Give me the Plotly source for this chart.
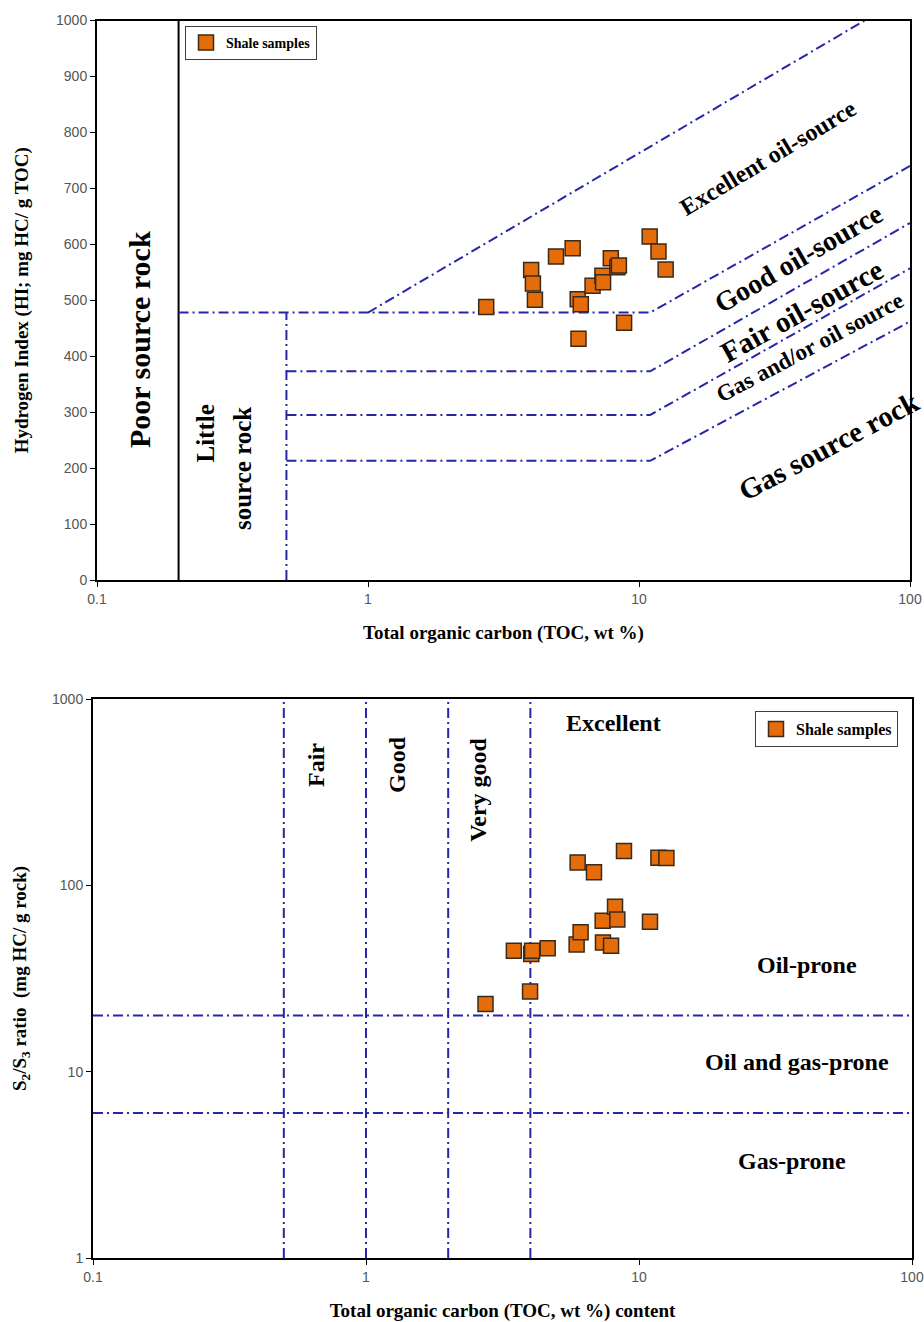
import numpy as np
import plotly.graph_objects as go

# ---------------- data ----------------
# Top chart: HI vs TOC
toc_hi = [2.73, 4.00, 4.06, 4.13, 4.94, 5.69, 5.98, 5.94, 6.10, 6.74,
          7.33, 7.37, 7.87, 8.32, 8.43, 8.81, 10.95, 11.8, 12.54]
hi = [488, 554, 530, 501, 578, 593, 431, 502, 493, 526,
      544, 532, 575, 559, 562, 460, 614, 587, 555]

# Bottom chart: S2/S3 vs TOC
toc_s = [2.74, 3.99, 3.48, 4.03, 4.06, 4.63, 5.91, 6.11, 5.96, 6.84,
         7.36, 7.38, 7.90, 8.17, 8.33, 8.81, 10.97, 11.78, 12.6]
s2s3 = [23.1, 26.9, 44.6, 42.8, 44.6, 45.9, 48.2, 56.0, 132.8, 117.5,
        64.6, 49.4, 47.4, 76.7, 65.6, 152.8, 63.8, 140.6, 140.0]

# Classification boundaries (top chart)
poor_x = 0.2
little_x = 0.5
class_start_x = [0.2, 0.5, 0.5, 0.5]
class_hi = [478, 373, 295, 213]
class_bend_x = 11
class_end_x = 100
class_end_hi = [740, 638, 557, 462]
excellent_x = [1, 68]
excellent_hi = [478, 1000]

# Classification boundaries (bottom chart)
toc_bounds = [0.5, 1, 2, 4]
ratio_bounds = [20, 6]

x_ticks = [0.1, 1, 10, 100]
x_tick_text = ["0.1", "1", "10", "100"]
y2_ticks = [1, 10, 100, 1000]
y2_tick_text = ["1", "10", "100", "1000"]

# ---------------- styling ----------------
BLUE = "#2626a8"
DASH = "10px,4px,2px,4px"
ORANGE = "#E46C0A"
SERIF = "Liberation Serif"
SANS = "Liberation Sans"
TICKCOL = "#555555"

W, H = 924, 1322

fig = go.Figure()

line_style = dict(color=BLUE, width=2, dash=DASH)

# top chart lines
fig.add_trace(go.Scatter(x=[poor_x, poor_x], y=[0, 1000], mode="lines",
                         line=dict(color="black", width=2), showlegend=False,
                         hoverinfo="skip", xaxis="x", yaxis="y"))
fig.add_trace(go.Scatter(x=[little_x, little_x], y=[0, class_hi[0]], mode="lines",
                         line=line_style, showlegend=False, hoverinfo="skip",
                         xaxis="x", yaxis="y"))
for sx, h0, h1 in zip(class_start_x, class_hi, class_end_hi):
    fig.add_trace(go.Scatter(x=[sx, class_bend_x, class_end_x], y=[h0, h0, h1],
                             mode="lines", line=line_style, showlegend=False,
                             hoverinfo="skip", xaxis="x", yaxis="y"))
fig.add_trace(go.Scatter(x=excellent_x, y=excellent_hi, mode="lines",
                         line=line_style, showlegend=False, hoverinfo="skip",
                         xaxis="x", yaxis="y"))

# bottom chart lines
for tb in toc_bounds:
    fig.add_trace(go.Scatter(x=[tb, tb], y=[1, 1000], mode="lines",
                             line=line_style, showlegend=False, hoverinfo="skip",
                             xaxis="x2", yaxis="y2"))
for rb in ratio_bounds:
    fig.add_trace(go.Scatter(x=[0.1, 100], y=[rb, rb], mode="lines",
                             line=line_style, showlegend=False, hoverinfo="skip",
                             xaxis="x2", yaxis="y2"))

marker = dict(symbol="square", size=15, color=ORANGE,
              line=dict(color="#3a2a1a", width=1.5))

fig.add_trace(go.Scatter(x=toc_hi, y=hi, mode="markers", marker=marker,
                         name="Shale samples", legend="legend",
                         xaxis="x", yaxis="y"))
fig.add_trace(go.Scatter(x=toc_s, y=s2s3, mode="markers", marker=marker,
                         name="Shale samples", legend="legend2",
                         xaxis="x2", yaxis="y2"))

axis_common = dict(showline=True, linecolor="black", linewidth=2, mirror=True,
                   showgrid=False, zeroline=False, ticks="outside", ticklen=5,
                   tickcolor="black", tickwidth=1,
                   tickfont=dict(family=SANS, size=14, color=TICKCOL),
                   automargin=False)
title_font = dict(family=SERIF, size=19, color="black", weight="bold")

fig.update_layout(
    width=W, height=H, margin=dict(l=0, r=0, t=0, b=0),
    paper_bgcolor="white", plot_bgcolor="white",
    xaxis=dict(domain=[97 / W, 910 / W], anchor="y", type="log", range=[-1, 2],
               tickvals=x_ticks, ticktext=x_tick_text,
               title=dict(text="Total organic carbon (TOC, wt %)", font=title_font,
                          standoff=20),
               **axis_common),
    yaxis=dict(domain=[1 - 580 / H, 1 - 20.5 / H], anchor="x", range=[0, 1000],
               dtick=100,
               title=dict(text="Hydrogen Index (HI; mg HC/ g TOC)", font=title_font,
                          standoff=22),
               **axis_common),
    xaxis2=dict(domain=[93 / W, 912 / W], anchor="y2", type="log", range=[-1, 2],
                tickvals=x_ticks, ticktext=x_tick_text,
                title=dict(text="Total organic carbon (TOC, wt %) content",
                           font=title_font, standoff=20),
                **axis_common),
    yaxis2=dict(domain=[1 - 1258 / H, 1 - 699 / H], anchor="x2", type="log",
                range=[0, 3], tickvals=y2_ticks, ticktext=y2_tick_text,
                title=dict(text="S<sub>2</sub>/S<sub>3</sub> ratio  (mg HC/ g rock)",
                           font=title_font, standoff=20),
                **axis_common),
    legend=dict(x=185 / W, y=1 - 26 / H, xanchor="left", yanchor="top",
                bordercolor="#404040", borderwidth=1, bgcolor="white",
                font=dict(family=SERIF, size=14, color="black", weight="bold"),
                itemwidth=30),
    legend2=dict(x=755 / W, y=1 - 711 / H, xanchor="left", yanchor="top",
                 bordercolor="#404040", borderwidth=1, bgcolor="white",
                 font=dict(family=SERIF, size=16, color="black", weight="bold"),
                 itemwidth=30),
)


def label(text, lx, ly, size, angle=0, xref="x", yref="y"):
    fig.add_annotation(text=text, x=lx, y=ly, xref=xref, yref=yref,
                       showarrow=False, textangle=angle,
                       font=dict(family=SERIF, size=size, color="black",
                                 weight="bold"),
                       xanchor="center", yanchor="middle")


# top chart region labels (x in log10 units)
label("Poor source rock", -0.841, 429, 30, -90)
label("Little", -0.601, 262, 25, -90)
label("source rock", -0.465, 200, 25, -90)
label("Excellent oil-source", 1.476, 754, 24, -31)
label("Good oil-source", 1.587, 575, 28, -30)
label("Fair oil-source", 1.600, 480, 29, -29)
label("Gas and/or oil source", 1.631, 415, 23, -28)
label("Gas source rock", 1.700, 240, 29, -28)

# bottom chart labels (log10 units on both axes)
label("Fair", -0.183, 2.646, 24, -90, "x2", "y2")
label("Good", 0.1136, 2.646, 24, -90, "x2", "y2")
label("Very good", 0.410, 2.512, 24, -90, "x2", "y2")
label("Excellent", 0.908, 2.871, 24, 0, "x2", "y2")
label("Oil-prone", 1.615, 1.572, 24, 0, "x2", "y2")
label("Oil and gas-prone", 1.579, 1.05, 24, 0, "x2", "y2")
label("Gas-prone", 1.560, 0.52, 24, 0, "x2", "y2")

fig.write_html("out.html",
               config={"displayModeBar": False},
               post_script="document.body.style.margin='0';"
                           "document.body.style.padding='0';")
